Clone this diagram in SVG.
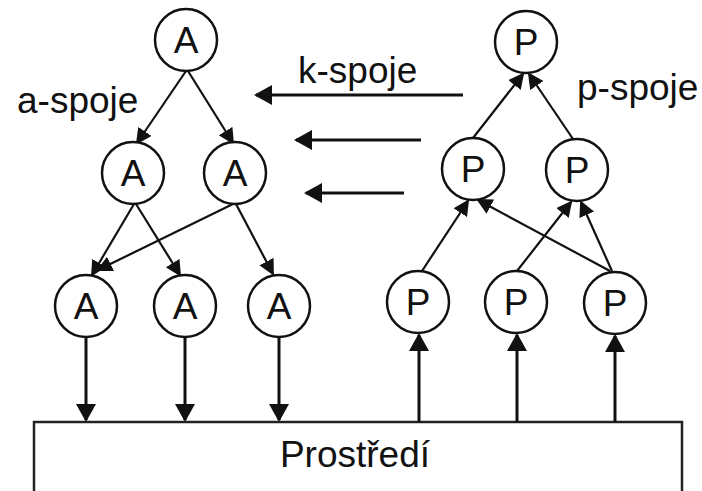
<svg xmlns="http://www.w3.org/2000/svg" width="702" height="491" viewBox="0 0 702 491">
<style>
.node circle{fill:#fff;stroke:#111;stroke-width:2.5}
.node text{font-family:"Liberation Sans",Arial,sans-serif;font-size:37px;fill:#111;text-anchor:middle}
.lbl{font-family:"Liberation Sans",Arial,sans-serif;font-size:37px;fill:#111}
.thin{fill:none;stroke:#111;stroke-width:2.2;marker-end:url(#sm)}
.thick{fill:none;stroke:#111;stroke-width:3;marker-end:url(#bg)}
.box{fill:#fff;stroke:#222;stroke-width:2.5}
</style>
<defs>
<marker id="bg" markerUnits="userSpaceOnUse" markerWidth="20" markerHeight="20" refX="16" refY="10" orient="auto"><path d="M0,0 L18,10 L0,20 Z" fill="#111"/></marker>
<marker id="sm" markerUnits="userSpaceOnUse" markerWidth="17" markerHeight="17" refX="14" refY="8" orient="auto"><path d="M0,0 L16,8 L0,16 Z" fill="#111"/></marker>
</defs>
<rect width="702" height="491" fill="#fff"/>
<g id="prostredi"><rect class="box" x="34" y="422" width="648" height="100"/><text class="lbl" x="355" y="467" text-anchor="middle" font-size="38">Prostředí</text></g>
<g id="connectors">
<path class="thin" d="M186,71 L137,143"/>
<path class="thin" d="M188,71 L233,143"/>
<path class="thin" d="M134,204 L92,275"/>
<path class="thin" d="M136,204 L180,275"/>
<path class="thin" d="M233,204 L98,270"/>
<path class="thin" d="M236,204 L273,274"/>
<path class="thick" d="M86,337 L86,420"/>
<path class="thick" d="M185,337 L185,420"/>
<path class="thick" d="M279,337 L279,420"/>
<path class="thick" d="M463,95 L256,95"/>
<path class="thick" d="M421,140 L296,140"/>
<path class="thick" d="M404,193 L306,193"/>
<path class="thin" d="M473,138 L523,74"/>
<path class="thin" d="M573,139 L529,74"/>
<path class="thin" d="M422,271 L468,201"/>
<path class="thin" d="M610,271 L478,200"/>
<path class="thin" d="M517,271 L571,202"/>
<path class="thin" d="M612,271 L581,202"/>
<path class="thick" d="M419,422 L419,335"/>
<path class="thick" d="M517,422 L517,335"/>
<path class="thick" d="M615,422 L615,336"/>
</g>
<g id="A1" class="node"><circle cx="186" cy="40" r="31"/><text x="186" y="53">A</text></g>
<g id="A2" class="node"><circle cx="133" cy="173" r="31"/><text x="133" y="186">A</text></g>
<g id="A3" class="node"><circle cx="235" cy="173" r="31"/><text x="235" y="186">A</text></g>
<g id="A4" class="node"><circle cx="86" cy="306" r="31"/><text x="86" y="319">A</text></g>
<g id="A5" class="node"><circle cx="185" cy="306" r="31"/><text x="185" y="319">A</text></g>
<g id="A6" class="node"><circle cx="279" cy="306" r="31"/><text x="279" y="319">A</text></g>
<g id="P1" class="node"><circle cx="526" cy="42" r="31"/><text x="526" y="55">P</text></g>
<g id="P2" class="node"><circle cx="473" cy="169" r="31"/><text x="473" y="182">P</text></g>
<g id="P3" class="node"><circle cx="577" cy="170" r="31"/><text x="577" y="183">P</text></g>
<g id="P4" class="node"><circle cx="418" cy="302" r="31"/><text x="418" y="315">P</text></g>
<g id="P5" class="node"><circle cx="516" cy="302" r="31"/><text x="516" y="315">P</text></g>
<g id="P6" class="node"><circle cx="615" cy="303" r="31"/><text x="615" y="316">P</text></g>
<g id="labels">
<text class="lbl" x="17" y="113">a-spoje</text>
<text class="lbl" x="298" y="83">k-spoje</text>
<text class="lbl" x="577" y="100">p-spoje</text>
</g>
</svg>
